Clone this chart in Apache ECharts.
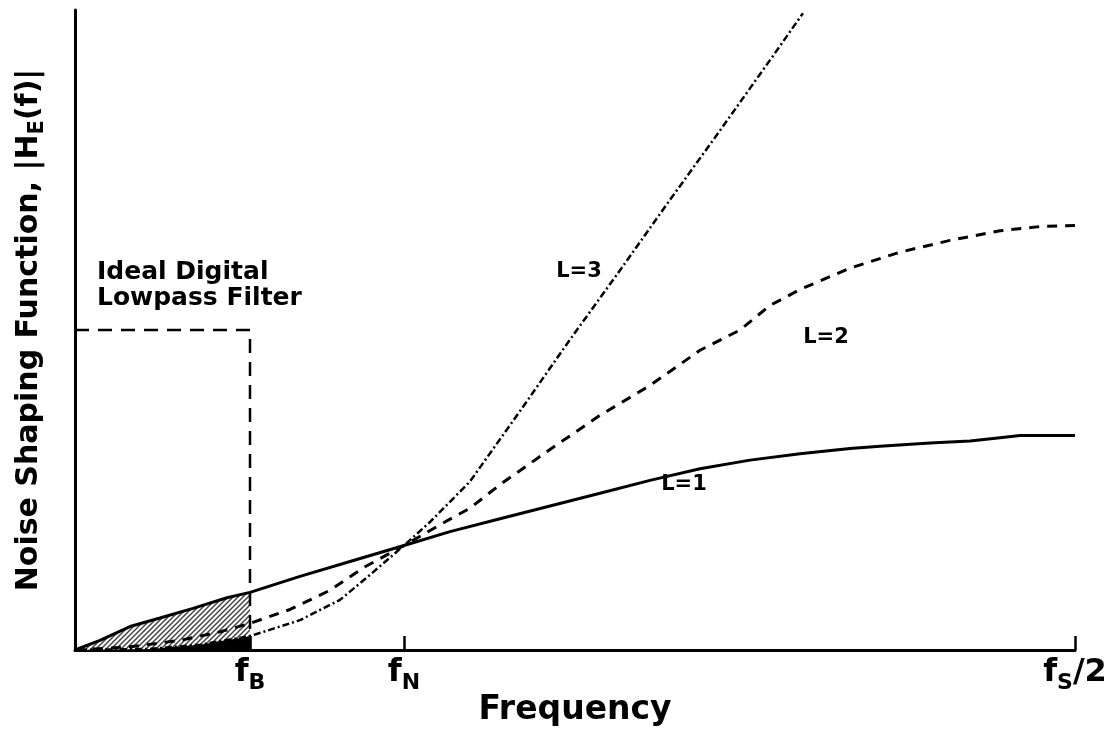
<!DOCTYPE html>
<html>
<head>
<meta charset="utf-8">
<script src="https://cdn.jsdelivr.net/npm/echarts@6/dist/echarts.min.js"></script>
<style>
html,body{margin:0;padding:0;background:#fff;}
#chart{width:1104px;height:731px;}
</style>
</head>
<body>
<div id="chart"></div>
<script>
// Frequency axis: 0 .. 100 where 100 = fS/2 ; magnitude axis 0 .. 6
const tickValues = [17.5, 32.9, 100];
const tickNames = [['f', 'B', ''], ['f', 'N', ''], ['f', 'S', '/2']];

const L1 = [[0,0],[2.5,0.09],[5.5,0.22],[8.5,0.30],[11.8,0.39],[15.2,0.49],[17.5,0.54],[22.5,0.69],[27.5,0.83],[32.9,0.98],[37.5,1.11],[42.5,1.23],[47.5,1.35],[52.5,1.47],[57.5,1.59],[62.5,1.70],[67.5,1.78],[72.5,1.84],[77.5,1.89],[80.5,1.91],[85.5,1.94],[89.5,1.96],[92.5,1.99],[94.5,2.01],[100,2.01]];
const L2 = [[0,0],[5.5,0.03],[10.5,0.09],[14.5,0.17],[17.5,0.25],[21.5,0.38],[25.5,0.56],[29,0.78],[32.9,0.98],[36.8,1.19],[39.5,1.33],[42.5,1.55],[47.5,1.88],[52.5,2.20],[57.5,2.48],[62.5,2.81],[66.5,3.00],[69.5,3.23],[72.5,3.38],[77.5,3.58],[82.5,3.73],[87.5,3.84],[92.5,3.93],[96.5,3.97],[100,3.98]];
const L3 = [[0,0],[7.5,0.01],[12.5,0.05],[17.5,0.13],[22.5,0.28],[26.5,0.47],[29.2,0.68],[32.9,0.98],[35.5,1.20],[39.5,1.58],[44.5,2.24],[49.5,2.91],[54.5,3.56],[59.5,4.22],[64.5,4.87],[69.5,5.53],[72.8,5.97]];
const idealFilter = [[0,3.0],[17.5,3.0],[17.5,0]];
const fB = 17.5;

const curveLabels = [
  {text: 'L=3', at: [50.4, 3.55]},
  {text: 'L=2', at: [75.1, 2.93]},
  {text: 'L=1', at: [60.9, 1.55]}
];
const filterLabel = {text: 'Ideal Digital\nLowpass Filter', at: [2.2, 3.66]};

const FONT = 'DejaVu Sans';

// hatch pattern
const hc = document.createElement('canvas');
hc.width = 5; hc.height = 5;
const hx = hc.getContext('2d');
hx.fillStyle = '#fff'; hx.fillRect(0,0,5,5);
hx.strokeStyle = '#444'; hx.lineWidth = 1.5;
[[-5,10,10,-5],[-5,5,5,-5],[0,10,10,0]].forEach(function(s){
  hx.beginPath(); hx.moveTo(s[0], s[1]); hx.lineTo(s[2], s[3]); hx.stroke();
});

const inBand = arr => arr.filter(p => p[0] <= fB);

const chart = echarts.init(document.getElementById('chart'), null, {renderer: 'canvas'});
const option = {
  animation: false,
  backgroundColor: '#fff',
  grid: {left: 75, right: 29, top: 10, bottom: 81, outerBoundsMode: 'none', containLabel: false},
  xAxis: {
    type: 'value', min: 0, max: 100,
    name: 'Frequency', nameLocation: 'middle', nameGap: 44, nameMoveOverlap: false,
    nameTextStyle: {fontFamily: FONT, fontWeight: 'bold', fontSize: 33, color: '#000'},
    axisLine: {show: true, lineStyle: {color: '#000', width: 3}},
    splitLine: {show: false},
    axisTick: {show: true, customValues: tickValues, inside: true, length: 14, lineStyle: {color: '#000', width: 2.5}},
    axisLabel: {
      customValues: tickValues, margin: 2, color: '#000', fontFamily: FONT, fontWeight: 'bold',
      formatter: function (v) {
        const i = tickValues.indexOf(v);
        const t = tickNames[i];
        return '{f|' + t[0] + '}{s|' + t[1] + '}' + (t[2] ? '{f|' + t[2] + '}' : '');
      },
      rich: {
        f: {fontSize: 32, fontWeight: 'bold', fontFamily: FONT, color: '#000'},
        s: {fontSize: 22, fontWeight: 'bold', fontFamily: FONT, color: '#000', padding: [20, 0, 0, 0]}
      }
    }
  },
  yAxis: {
    type: 'value', min: 0, max: 6,
    name: '{t|Noise Shaping Function, |H}{s|E}{t|(f)|}',
    nameLocation: 'middle', nameGap: 27, nameRotate: 90,
    nameTextStyle: {
      fontFamily: FONT, fontWeight: 'bold', color: '#000',
      rich: {
        t: {fontSize: 30, fontWeight: 'bold', fontFamily: FONT, color: '#000'},
        s: {fontSize: 21, fontWeight: 'bold', fontFamily: FONT, color: '#000', padding: [16, 0, 0, 0]}
      }
    },
    axisLine: {show: true, lineStyle: {color: '#000', width: 3}},
    axisTick: {show: false},
    axisLabel: {show: false},
    splitLine: {show: false}
  },
  series: [
    {
      name: 'hatch', type: 'line', data: inBand(L1), symbol: 'none', silent: true, z: 1,
      lineStyle: {width: 0, opacity: 0},
      areaStyle: {color: {image: hc, repeat: 'repeat'}, opacity: 1}
    },
    {
      name: 'black', type: 'line', data: inBand(L3), symbol: 'none', silent: true, z: 2,
      lineStyle: {width: 0, opacity: 0},
      areaStyle: {color: '#000', opacity: 1}
    },
    {
      name: 'Ideal Digital Lowpass Filter', type: 'line', data: idealFilter, symbol: 'none', z: 3,
      lineStyle: {color: '#000', width: 2.5, type: [14, 9]}
    },
    {
      name: 'L=1', type: 'line', data: L1, symbol: 'none', z: 4,
      lineStyle: {color: '#000', width: 3, type: 'solid'}
    },
    {
      name: 'L=2', type: 'line', data: L2, symbol: 'none', z: 4,
      lineStyle: {color: '#000', width: 3, type: [10, 8]}
    },
    {
      name: 'L=3', type: 'line', data: L3, symbol: 'none', z: 4,
      lineStyle: {color: '#000', width: 2.5, type: [7, 3, 2, 3]}
    }
  ]
};
chart.setOption(option);

const gfx = curveLabels.map(function (c) {
  const p = chart.convertToPixel({gridIndex: 0}, c.at);
  return {
    type: 'text', x: p[0], y: p[1], z: 10,
    style: {text: c.text, fill: '#000', font: 'bold 21px "' + FONT + '"', align: 'center', verticalAlign: 'middle'}
  };
});
const fp = chart.convertToPixel({gridIndex: 0}, filterLabel.at);
gfx.push({
  type: 'text', x: fp[0], y: fp[1], z: 10,
  style: {text: filterLabel.text, fill: '#000', font: 'bold 25px "' + FONT + '"', lineHeight: 26, align: 'left', verticalAlign: 'top'}
});
chart.setOption({graphic: gfx});
</script>
</body>
</html>
